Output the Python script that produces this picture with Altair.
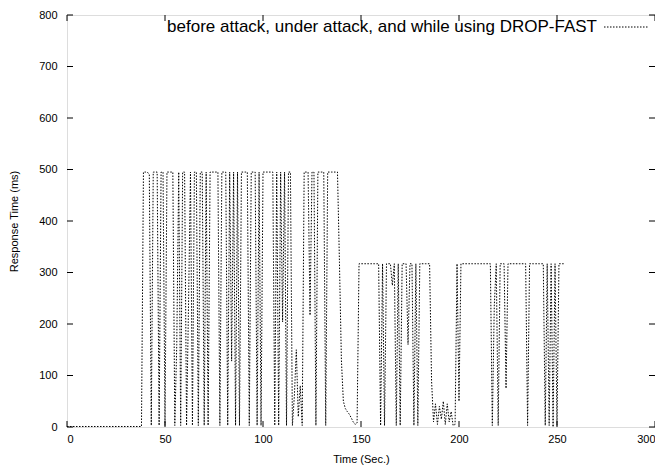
import altair as alt
import pandas as pd

# --- data ---
baseline_time = [0, 10, 20, 30, 38]
baseline_ms = [1, 1, 1, 1, 1]

attack_ms = [
    495, 495, 495, 490, 3, 495, 495, 495, 3, 495,      # 39-48
    495, 3, 495, 495, 495, 495, 3, 160, 495, 3,         # 49-58
    495, 495, 3, 236, 495, 3, 495, 495, 3, 495,         # 59-68
    495, 3, 495, 3, 495, 495, 495, 495, 495, 3,         # 69-78
    495, 495, 495, 3, 495, 128, 495, 3, 495, 3,         # 79-88
    495, 495, 495, 495, 3, 495, 495, 495, 3, 495,       # 89-98
    3, 495, 495, 495, 495, 495, 495, 3, 495, 3,         # 99-108
    495, 204, 495, 3, 495, 495, 3, 60, 150, 20,         # 109-118
    80, 3, 495, 495, 495, 217, 495, 495, 3, 495,        # 119-128
    495, 495, 495, 3, 495, 495, 495, 495, 495, 495,     # 129-138
    320, 130, 50, 36, 30, 25, 18, 10, 5, 8,             # 139-148
]
dropfast_ms = [
    317, 317, 317, 317, 317, 317, 317, 317, 317, 317,   # 149-158
    317, 3, 317, 3, 317, 317, 317, 275, 317, 3,         # 159-168
    317, 3, 317, 317, 317, 160, 317, 317, 3, 317,       # 169-178
    3, 317, 317, 317, 317, 317, 317, 90, 10, 45,        # 179-188
    5, 40, 15, 50, 5, 45, 10, 30, 3, 5,                 # 189-198
    317, 50, 317, 317, 317, 317, 317, 317, 317, 317,    # 199-208
    317, 317, 317, 317, 317, 317, 317, 317, 3, 235,     # 209-218
    317, 3, 317, 317, 317, 75, 317, 317, 317, 317,      # 219-228
    317, 317, 317, 317, 317, 317, 3, 317, 317, 317,     # 229-238
    317, 317, 317, 317, 317, 3, 317, 3, 317, 0,         # 239-248
    317, 3, 317, 317, 317, 317,                         # 249-254
]
sample_time = list(range(39, 39 + len(attack_ms) + len(dropfast_ms)))

x_ticks = [0, 50, 100, 150, 200, 250, 300]
y_ticks = [0, 100, 200, 300, 400, 500, 600, 700, 800]
legend_label = "before attack, under attack, and while using DROP-FAST"

W, H = 588, 412
FONT = "Liberation Sans"

df = pd.DataFrame({
    "t": baseline_time + sample_time,
    "ms": baseline_ms + attack_ms + dropfast_ms,
})
xt = pd.DataFrame({"v": x_ticks})
yt = pd.DataFrame({"v": y_ticks})

xscale = alt.Scale(domain=[0, 300], nice=False, zero=False)
yscale = alt.Scale(domain=[0, 800], nice=False, zero=False)

axis_common = dict(ticks=False, domain=False, grid=False,
                   labelFont=FONT, titleFont=FONT, labelFontSize=11,
                   titleFontSize=11, titleFontWeight="normal",
                   labelColor="black", titleColor="black")

line = alt.Chart(df).mark_line(
    color="black", strokeWidth=1, strokeDash=[1.5, 1.5], clip=True
).encode(
    x=alt.X("t:Q", scale=xscale, title="Time (Sec.)",
            axis=alt.Axis(values=x_ticks, labelPadding=6, titlePadding=9,
                          **axis_common)),
    y=alt.Y("ms:Q", scale=yscale, title="Response Time (ms)",
            axis=alt.Axis(values=y_ticks, labelPadding=10, titlePadding=19,
                          **axis_common)),
)

tick_len = 6
xb = alt.Chart(xt).mark_rule(color="black", strokeWidth=1).encode(
    x=alt.X("v:Q", scale=xscale), y=alt.value(H - tick_len), y2=alt.value(H))
xtop = alt.Chart(xt).mark_rule(color="black", strokeWidth=1).encode(
    x=alt.X("v:Q", scale=xscale), y=alt.value(0), y2=alt.value(tick_len))
yl = alt.Chart(yt).mark_rule(color="black", strokeWidth=1).encode(
    y=alt.Y("v:Q", scale=yscale), x=alt.value(0), x2=alt.value(tick_len))
yr = alt.Chart(yt).mark_rule(color="black", strokeWidth=1).encode(
    y=alt.Y("v:Q", scale=yscale), x=alt.value(W - tick_len), x2=alt.value(W))

leg_df = pd.DataFrame({"label": [legend_label]})
leg_text = alt.Chart(leg_df).mark_text(
    align="right", baseline="middle", font=FONT, fontSize=17, color="black"
).encode(text="label:N", x=alt.value(530), y=alt.value(12))
leg_line = alt.Chart(leg_df).mark_rule(
    color="black", strokeWidth=1, strokeDash=[1.5, 1.5]
).encode(x=alt.value(537), x2=alt.value(581), y=alt.value(12))

chart = alt.layer(line, xb, xtop, yl, yr, leg_text, leg_line).properties(
    width=W, height=H,
    autosize=alt.AutoSizeParams(type="none"),
    padding={"left": 59, "top": 7, "right": 0, "bottom": 40},
).configure_view(
    stroke="black", strokeWidth=1
).configure(background="white")

chart.save("out.html", embed_options={"renderer": "svg", "actions": False})
